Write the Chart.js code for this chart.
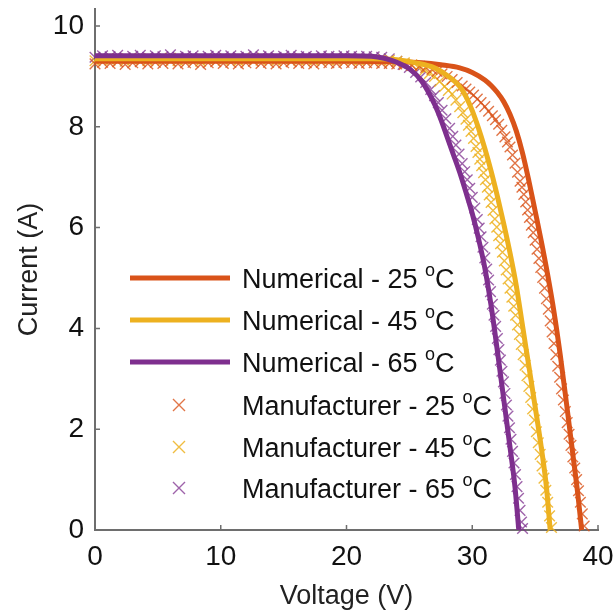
<!DOCTYPE html>
<html lang="en">
<head>
<meta charset="UTF-8">
<title>I-V curves</title>
<style>
    html, body { margin: 0; padding: 0; background: #fff; }
    canvas { display: block; }
</style>
</head>
<body>
<canvas id="iv" width="616" height="614"></canvas>
<script src="https://cdn.jsdelivr.net/npm/chart.js"></script>
<script>
    // axis ticks
    const xTicks = [0, 10, 20, 30, 40];
    const yTicks = [0, 2, 4, 6, 8, 10];

    // numerical model curves (V, A)
    const num25V = [0, 5, 10, 15, 20, 24, 26, 27.5, 29, 30, 31, 31.5, 32, 32.5, 33, 33.5, 34, 34.5, 35, 35.5, 36, 36.5, 37, 37.5, 38, 38.4, 38.7];
    const num25I = [9.30, 9.30, 9.30, 9.30, 9.30, 9.29, 9.27, 9.23, 9.17, 9.08, 8.93, 8.82, 8.68, 8.50, 8.25, 7.92, 7.48, 6.93, 6.33, 5.72, 5.06, 4.33, 3.47, 2.50, 1.50, 0.70, 0];
    const num45V = [0, 5, 10, 15, 20, 22, 24, 25.5, 27, 28, 29, 29.5, 30, 30.5, 31, 31.5, 32, 32.5, 33, 33.5, 34, 34.5, 35, 35.5, 35.9, 36.2];
    const num45I = [9.35, 9.35, 9.35, 9.35, 9.35, 9.35, 9.33, 9.27, 9.17, 9.02, 8.80, 8.60, 8.32, 7.97, 7.57, 7.12, 6.62, 6.08, 5.50, 4.85, 4.05, 3.25, 2.45, 1.62, 0.85, 0];
    const num65V = [0, 5, 10, 15, 20, 22, 23, 24, 25, 26, 27, 27.5, 28, 28.5, 29, 29.5, 30, 30.5, 31, 31.5, 32, 32.5, 33, 33.4, 33.7];
    const num65I = [9.41, 9.41, 9.41, 9.41, 9.41, 9.40, 9.36, 9.28, 9.15, 8.90, 8.45, 8.15, 7.80, 7.45, 7.10, 6.70, 6.28, 5.78, 5.20, 4.45, 3.55, 2.60, 1.65, 0.85, 0];

    // datasheet points: flat part shares the voltage grid
    const flatV = [0, 0.6, 1.2, 1.8, 2.4, 3, 3.6, 4.2, 4.8, 5.4, 6, 6.6, 7.2, 7.8, 8.4, 9, 9.6, 10.2, 10.8, 11.4,
        12, 12.6, 13.2, 13.8, 14.4, 15, 15.6, 16.2, 16.8, 17.4, 18, 18.6, 19.2, 19.8, 20.4, 21, 21.6];
    const mfr25FlatI = [9.25, 9.28, 9.26, 9.29, 9.24, 9.27, 9.29, 9.25, 9.28, 9.26, 9.30, 9.25, 9.27, 9.28, 9.24, 9.27, 9.29, 9.26, 9.28, 9.25,
        9.27, 9.30, 9.26, 9.28, 9.25, 9.27, 9.29, 9.26, 9.27, 9.25, 9.28, 9.27, 9.26, 9.28, 9.27, 9.26, 9.27];
    const mfr45FlatI = [9.31, 9.34, 9.32, 9.35, 9.30, 9.33, 9.35, 9.31, 9.34, 9.32, 9.36, 9.31, 9.33, 9.34, 9.30, 9.33, 9.35, 9.32, 9.34, 9.31,
        9.33, 9.36, 9.32, 9.34, 9.31, 9.33, 9.35, 9.32, 9.33, 9.31, 9.34, 9.33, 9.32, 9.34, 9.33, 9.32, 9.33];
    const mfr65FlatI = [9.38, 9.41, 9.39, 9.42, 9.37, 9.40, 9.42, 9.38, 9.41, 9.39, 9.43, 9.38, 9.40, 9.41, 9.37, 9.40, 9.42, 9.39, 9.41, 9.38,
        9.40, 9.43, 9.39, 9.41, 9.38, 9.40, 9.42, 9.39, 9.40, 9.38, 9.41, 9.40, 9.39, 9.41, 9.40, 9.39, 9.40];

    // datasheet points: knee and drop
    const mfr25V = [22.2, 22.8, 23.4, 24.0, 24.6, 25.2, 25.8, 26.3, 26.8, 27.2, 27.6, 28.0, 28.4, 28.8, 29.2, 29.5, 29.8, 30.1, 30.4, 30.7,
        31.0, 31.3, 31.6, 31.85, 32.1, 32.35, 32.6, 32.8, 33.0, 33.2, 33.4, 33.6, 33.8, 33.95, 34.1, 34.25, 34.4, 34.55, 34.7, 34.85,
        35.0, 35.15, 35.3, 35.45, 35.6, 35.75, 35.9, 36.05, 36.2, 36.35, 36.5, 36.65, 36.8, 36.95, 37.1, 37.25, 37.4, 37.55, 37.7, 37.85,
        38.0, 38.15, 38.3, 38.45, 38.6, 38.75, 38.9];
    const mfr25I = [9.27, 9.26, 9.26, 9.25, 9.24, 9.22, 9.20, 9.18, 9.14, 9.10, 9.05, 9.00, 8.94, 8.88, 8.81, 8.75, 8.69, 8.63, 8.55, 8.48,
        8.40, 8.31, 8.22, 8.14, 8.05, 7.93, 7.80, 7.70, 7.60, 7.44, 7.28, 7.10, 6.92, 6.80, 6.66, 6.51, 6.35, 6.20, 6.05, 5.90,
        5.75, 5.57, 5.39, 5.21, 5.01, 4.80, 4.59, 4.38, 4.15, 3.93, 3.70, 3.48, 3.25, 3.03, 2.80, 2.58, 2.35, 2.13, 1.90, 1.68,
        1.45, 1.23, 1.00, 0.78, 0.55, 0.32, 0.08];
    const mfr45V = [22.2, 22.8, 23.4, 24.0, 24.6, 25.2, 25.7, 26.2, 26.6, 27.0, 27.4, 27.8, 28.1, 28.4, 28.7, 29.0, 29.25, 29.5, 29.7, 29.9,
        30.1, 30.3, 30.45, 30.6, 30.75, 30.9, 31.05, 31.2, 31.35, 31.5, 31.65, 31.8, 31.95, 32.1, 32.25, 32.4, 32.55, 32.7, 32.85, 33.0,
        33.15, 33.3, 33.45, 33.6, 33.75, 33.9, 34.05, 34.2, 34.35, 34.5, 34.65, 34.8, 34.95, 35.1, 35.25, 35.4, 35.55, 35.7, 35.85, 36.0,
        36.15, 36.3];
    const mfr45I = [9.33, 9.31, 9.32, 9.30, 9.27, 9.23, 9.18, 9.12, 9.06, 9.00, 8.90, 8.80, 8.72, 8.65, 8.53, 8.40, 8.28, 8.15, 8.03, 7.91,
        7.77, 7.61, 7.49, 7.36, 7.23, 7.09, 6.95, 6.80, 6.65, 6.50, 6.34, 6.17, 6.01, 5.84, 5.68, 5.51, 5.34, 5.16, 4.98, 4.80,
        4.62, 4.44, 4.26, 4.07, 3.88, 3.68, 3.48, 3.27, 3.06, 2.85, 2.63, 2.40, 2.18, 1.95, 1.73, 1.50, 1.27, 1.03, 0.79, 0.55,
        0.28, 0.05];
    const mfr65V = [22.2, 22.8, 23.4, 24.0, 24.5, 25.0, 25.5, 25.9, 26.3, 26.7, 27.0, 27.3, 27.6, 27.9, 28.2, 28.45, 28.7, 28.95, 29.2, 29.4,
        29.6, 29.8, 30.0, 30.2, 30.4, 30.55, 30.7, 30.85, 31.0, 31.15, 31.3, 31.45, 31.6, 31.73, 31.86, 32.0, 32.12, 32.24, 32.36, 32.48,
        32.6, 32.72, 32.84, 32.96, 33.08, 33.2, 33.32, 33.44, 33.56, 33.68, 33.8, 33.92, 34.0];
    const mfr65I = [9.39, 9.38, 9.35, 9.30, 9.24, 9.18, 9.08, 8.99, 8.88, 8.74, 8.62, 8.48, 8.33, 8.16, 7.97, 7.81, 7.64, 7.46, 7.27, 7.11,
        6.95, 6.78, 6.60, 6.39, 6.16, 5.99, 5.82, 5.61, 5.40, 5.18, 4.96, 4.73, 4.48, 4.26, 4.04, 3.80, 3.58, 3.37, 3.15, 2.94,
        2.71, 2.48, 2.26, 2.03, 1.80, 1.56, 1.33, 1.10, 0.86, 0.63, 0.39, 0.16, 0.03];

    const legendNames = ['Numerical - 25', 'Numerical - 45', 'Numerical - 65',
        'Manufacturer - 25', 'Manufacturer - 45', 'Manufacturer - 65'];

    const red = '#D95319';
    const yellow = '#EDB120';
    const purple = '#7E2F8E';
    const redX = 'rgba(217, 83, 25, 0.8)';
    const yellowX = 'rgba(237, 177, 32, 0.85)';
    const purpleX = 'rgba(126, 47, 142, 0.75)';
    const axisGrey = '#6e6e6e';
    const FONT = '"Liberation Sans", Arial, Helvetica, sans-serif';

    const pts = (vs, is) => vs.map((v, i) => ({ x: v, y: is[i] }));

    function lineSet(label, vs, is, color) {
        return {
            type: 'line', label, data: pts(vs, is),
            borderColor: color, borderWidth: 5, pointRadius: 0,
            cubicInterpolationMode: 'monotone', fill: false, order: 1
        };
    }
    function markerSet(label, vs, is, color) {
        return {
            type: 'scatter', label, data: pts(vs, is),
            pointStyle: 'crossRot', pointRadius: 7.5, borderColor: color,
            pointBorderWidth: 1.4, backgroundColor: color, clip: false, order: 2
        };
    }

    // small inward tick marks on both axes
    const inwardTicks = {
        id: 'inwardTicks',
        afterDraw(chart) {
            const { ctx, scales: { x, y } } = chart;
            const bottom = y.getPixelForValue(0);
            const left = x.getPixelForValue(0);
            ctx.save();
            ctx.strokeStyle = axisGrey;
            ctx.lineWidth = 1.5;
            ctx.beginPath();
            xTicks.forEach(v => {
                const px = x.getPixelForValue(v);
                ctx.moveTo(px, bottom);
                ctx.lineTo(px, bottom - 5);
            });
            yTicks.forEach(v => {
                const py = y.getPixelForValue(v);
                ctx.moveTo(left, py);
                ctx.lineTo(left + 5, py);
            });
            ctx.stroke();
            ctx.restore();
        }
    };

    // legend box inside the plot, with superscript degree "o"
    const insideLegend = {
        id: 'insideLegend',
        afterDraw(chart) {
            const ctx = chart.ctx;
            const rows = [278, 320, 362, 405, 447, 488];
            const lineColors = [red, yellow, purple];
            const markColors = [redX, yellowX, purpleX];
            ctx.save();
            rows.forEach((ry, i) => {
                if (i < 3) {
                    ctx.strokeStyle = lineColors[i];
                    ctx.lineWidth = 5;
                    ctx.beginPath();
                    ctx.moveTo(130, ry);
                    ctx.lineTo(230, ry);
                    ctx.stroke();
                } else {
                    const r = 6;
                    ctx.strokeStyle = markColors[i - 3];
                    ctx.lineWidth = 1.4;
                    ctx.beginPath();
                    ctx.moveTo(179 - r, ry - r);
                    ctx.lineTo(179 + r, ry + r);
                    ctx.moveTo(179 - r, ry + r);
                    ctx.lineTo(179 + r, ry - r);
                    ctx.stroke();
                }
                ctx.fillStyle = '#111';
                ctx.textBaseline = 'middle';
                ctx.font = '27px ' + FONT;
                let tx = 242;
                const main = legendNames[i] + ' ';
                ctx.fillText(main, tx, ry + 3);
                tx += ctx.measureText(main).width;
                ctx.font = '18px ' + FONT;
                ctx.fillText('o', tx, ry - 7);
                tx += ctx.measureText('o').width;
                ctx.font = '27px ' + FONT;
                ctx.fillText('C', tx, ry + 3);
            });
            ctx.restore();
        }
    };

    Chart.defaults.font.family = FONT;
    Chart.defaults.color = '#111';

    new Chart(document.getElementById('iv'), {
        data: {
            datasets: [
                markerSet('Manufacturer - 25', flatV.concat(mfr25V), mfr25FlatI.concat(mfr25I), redX),
                markerSet('Manufacturer - 45', flatV.concat(mfr45V), mfr45FlatI.concat(mfr45I), yellowX),
                markerSet('Manufacturer - 65', flatV.concat(mfr65V), mfr65FlatI.concat(mfr65I), purpleX),
                lineSet('Numerical - 65', num65V, num65I, purple),
                lineSet('Numerical - 45', num45V, num45I, yellow),
                lineSet('Numerical - 25', num25V, num25I, red)
            ]
        },
        options: {
            responsive: false,
            animation: false,
            layout: { padding: { left: 0, top: 8, right: 18, bottom: 0 } },
            plugins: {
                legend: { display: false },
                tooltip: { enabled: false }
            },
            scales: {
                x: {
                    type: 'linear',
                    min: 0, max: 40,
                    grid: { display: false, drawTicks: false },
                    border: { display: true, color: axisGrey, width: 2 },
                    ticks: { stepSize: 10, padding: 10, font: { size: 28 }, color: '#111' },
                    title: { display: true, text: 'Voltage (V)', font: { size: 27, lineHeight: 1 }, padding: { top: 0, bottom: 4 }, color: '#222' },
                    afterFit: s => { s.height = 84; s.paddingLeft = 0; s.paddingRight = 0; }
                },
                y: {
                    type: 'linear',
                    min: 0, max: 10.34,
                    grid: { display: false, drawTicks: false },
                    border: { display: true, color: axisGrey, width: 2 },
                    ticks: { stepSize: 2, includeBounds: false, padding: 11, font: { size: 28 }, color: '#111' },
                    title: { display: true, text: 'Current (A)', font: { size: 27, lineHeight: 1 }, padding: { top: 16, bottom: 0 }, color: '#222' },
                    afterFit: s => { s.width = 95; s.paddingTop = 0; s.paddingBottom = 0; }
                }
            }
        },
        plugins: [inwardTicks, insideLegend]
    });
</script>
</body>
</html>
